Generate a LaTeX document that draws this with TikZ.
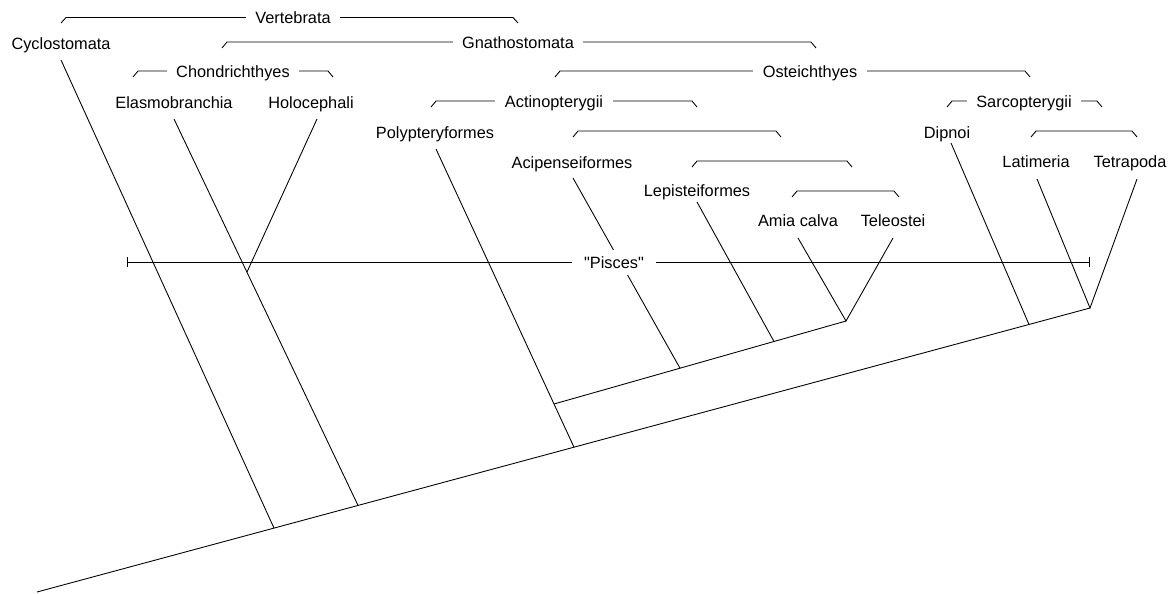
\documentclass[tikz,border=0pt]{standalone}
\usepackage{fontspec}
\setmainfont{Liberation Sans}[Ligatures=TeXOff]
\usetikzlibrary{arrows.meta}
\tikzset{
  taxon/.style={anchor=base, inner sep=0pt},
  clade/.style={anchor=base, fill=white, inner xsep=0.19cm, inner ysep=0.05cm},
  pisces/.style={anchor=base, fill=white, inner xsep=0.24cm, inner ysep=0.13cm, text depth=0pt}
}
\begin{document}
\begin{tikzpicture}[x=0.02cm, y=-0.02cm, line width=0.5pt, font=\fontsize{9.3}{11}\selectfont]
\useasboundingbox (0,0) rectangle (1172,593) ;
\draw (61,23) -- (66,17.5) -- (513,17.5) -- (518,23) ;
\draw (222,48) -- (227,42) -- (811,42) -- (816,48) ;
\draw (133,77) -- (138,71) -- (328,71) -- (333,77) ;
\draw (555,77) -- (560,71) -- (1025,71) -- (1030,77) ;
\draw (431,107) -- (436,101) -- (692,101) -- (697,107) ;
\draw (947,107) -- (952,101) -- (1097,101) -- (1102,107) ;
\draw (573,137) -- (578,131) -- (776,131) -- (781,137) ;
\draw (1031,137) -- (1036,131) -- (1132,131) -- (1137,137) ;
\draw (692,167) -- (697,161) -- (847,161) -- (852,167) ;
\draw (792,197) -- (797,191) -- (894,191) -- (899,197) ;
\node[clade] (verte) at (293,23.5) {Vertebrata} ;
\node[clade] (gnatho) at (518,48) {Gnathostomata} ;
\node[clade] (chondr) at (233,77) {Chondrichthyes} ;
\node[clade] (osteich) at (810,77) {Osteichthyes} ;
\node[clade] (actino) at (554,107) {Actinopterygii} ;
\node[clade] (sarco) at (1024,107) {Sarcopterygii} ;
\node[taxon] (cyclo) at (61,49) {Cyclostomata} ;
\node[taxon] (elasmo) at (174,108) {Elasmobranchia} ;
\node[taxon] (holo) at (311,108) {Holocephali} ;
\node[taxon] (polyp) at (435,138) {Polypteryformes} ;
\node[taxon] (acip) at (572,168) {Acipenseiformes} ;
\node[taxon] (lepis) at (697,196) {Lepisteiformes} ;
\node[taxon] (amia) at (798,226) {Amia calva} ;
\node[taxon] (teleo) at (893,226) {Teleostei} ;
\node[taxon] (dipnoi) at (947,138) {Dipnoi} ;
\node[taxon] (latim) at (1036,167) {Latimeria} ;
\node[taxon] (tetra) at (1130,167) {Tetrapoda} ;
\coordinate (cyclo-t) at (61,60) ;
\coordinate (elasmo-t) at (174,119) ;
\coordinate (holo-t) at (317,119) ;
\coordinate (polyp-t) at (436,149) ;
\coordinate (acip-t) at (573,178) ;
\coordinate (lepis-t) at (697,202) ;
\coordinate (amia-t) at (798,238) ;
\coordinate (teleo-t) at (893,238) ;
\coordinate (dipnoi-t) at (951,143) ;
\coordinate (latim-t) at (1037,179) ;
\coordinate (tetra-t) at (1137,179) ;
\coordinate (root) at (37,592) ;
\coordinate (jcyclo) at (274,528.1) ;
\coordinate (jelasmo) at (358,505.4) ;
\coordinate (jholo) at (247,272) ;
\coordinate (jpolyp) at (574,447.2) ;
\coordinate (jacti) at (554,404) ;
\coordinate (jacip) at (680,368.2) ;
\coordinate (jlepis) at (774,341.5) ;
\coordinate (jamia) at (846,321) ;
\coordinate (jdipnoi) at (1029,324.5) ;
\coordinate (jsarco) at (1090,308) ;
\draw (root) -- (jsarco) ;
\draw (jacti) -- (jamia) ;
\draw (cyclo-t) -- (jcyclo) ;
\draw (elasmo-t) -- (jelasmo) ;
\draw (holo-t) -- (jholo) ;
\draw (polyp-t) -- (jpolyp) ;
\draw (acip-t) -- (jacip) ;
\draw (lepis-t) -- (jlepis) ;
\draw (amia-t) -- (jamia) -- (teleo-t) ;
\draw (dipnoi-t) -- (jdipnoi) ;
\draw (latim-t) -- (jsarco) -- (tetra-t) ;
\coordinate (pL) at (127,262) ;
\coordinate (pR) at (1090,262) ;
\draw[{Bar[width=6pt]}-{Bar[width=6pt]}] (pL) -- (pR) ;
\node[pisces] (pisc) at (614,268) {"Pisces"} ;
\end{tikzpicture}
\end{document}
